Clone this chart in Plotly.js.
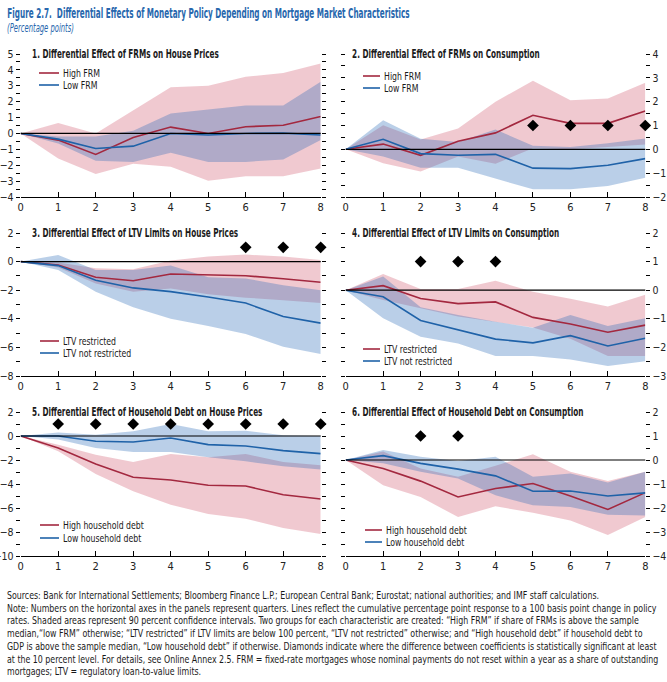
<!DOCTYPE html>
<html><head><meta charset="utf-8">
<script src="https://cdn.plot.ly/plotly-3.0.1.min.js"></script>
<style>html,body{margin:0;padding:0;background:#fff}#chart{width:667px;height:682px}</style>
</head><body><div id="chart"></div>
<script>
// ---------- DATA ----------
const quarters = [0,1,2,3,4,5,6,7,8];

// Panel 1: FRMs on House Prices
const p1HighLine  = [0,-0.42,-1.32,-0.25,0.40,0.00,0.42,0.52,1.07];
const p1HighUpper = [0,0.65,0.00,1.45,2.90,3.00,3.57,3.80,4.40];
const p1HighLower = [0,-1.58,-2.56,-1.90,-2.10,-2.98,-2.70,-2.70,-2.20];
const p1LowLine   = [0,-0.36,-0.95,-0.80,0.00,-0.10,0.00,0.02,-0.10];
const p1LowUpper  = [0,-0.20,-0.20,0.17,1.26,1.53,1.76,1.76,3.25];
const p1LowLower  = [0,-0.63,-1.72,-1.80,-1.22,-1.79,-1.79,-1.64,-0.42];
const p1Diamonds  = [];

// Panel 2: FRMs on Consumption
const p2HighLine  = [0,0.22,-0.25,0.34,0.69,1.43,1.09,1.09,1.61];
const p2HighUpper = [0,1.01,0.41,0.87,2.00,2.88,2.06,2.13,2.79];
const p2HighLower = [0,-0.58,-0.93,-0.30,-0.60,0.05,0.00,0.10,0.20];
const p2LowLine   = [0,0.42,-0.18,-0.25,-0.21,-0.79,-0.81,-0.67,-0.39];
const p2LowUpper  = [0,1.22,0.44,0.31,0.83,0.15,0.10,0.25,0.45];
const p2LowLower  = [0,-0.30,-0.77,-0.77,-1.23,-1.68,-1.68,-1.54,-1.19];
const p2Diamonds  = [5,6,7,8];

// Panel 3: LTV Limits on House Prices
const p3HighLine  = [0,-0.24,-1.10,-1.34,-0.87,-0.94,-0.99,-1.20,-1.44];
const p3HighUpper = [0,-0.07,-0.47,-0.54,0.07,0.35,0.49,0.35,0.12];
const p3HighLower = [0,-0.42,-1.53,-2.10,-1.88,-2.28,-2.52,-2.70,-2.90];
const p3LowLine   = [0,-0.28,-1.30,-1.84,-2.10,-2.47,-2.90,-3.84,-4.30];
const p3LowUpper  = [0,0.47,-0.59,-0.59,-0.28,-1.10,-1.18,-1.65,-2.00];
const p3LowLower  = [0,-0.59,-2.10,-3.20,-4.00,-4.50,-5.06,-5.95,-6.47];
const p3Diamonds  = [6,7,8];

// Panel 4: LTV Limits on Consumption
const p4HighLine  = [0,0.16,-0.29,-0.47,-0.41,-0.95,-1.18,-1.47,-1.22];
const p4HighUpper = [0,0.57,0.04,0.04,0.33,-0.05,-0.30,-0.57,-0.16];
const p4HighLower = [0,-0.34,-0.63,-0.92,-1.10,-1.30,-1.70,-2.30,-2.30];
const p4LowLine   = [0,-0.23,-1.06,-1.39,-1.71,-1.84,-1.59,-1.95,-1.68];
const p4LowUpper  = [0,0.48,-0.60,-0.87,-1.10,-1.31,-0.87,-1.25,-0.98];
const p4LowLower  = [0,-0.98,-1.63,-1.86,-2.30,-2.30,-2.42,-2.65,-2.48];
const p4Diamonds  = [2,3,4];

// Panel 5: Household Debt on House Prices
const p5HighLine  = [0,-1.00,-2.33,-3.44,-3.67,-4.11,-4.17,-4.89,-5.25];
const p5HighUpper = [0,-0.72,-1.56,-2.17,-1.50,-1.78,-1.50,-2.17,-2.44];
const p5HighLower = [0,-1.28,-3.17,-4.61,-5.72,-6.50,-6.89,-7.67,-8.17];
const p5LowLine   = [0,0.00,-0.44,-0.50,-0.17,-0.72,-0.83,-1.22,-1.47];
const p5LowUpper  = [0,0.30,0.11,0.39,1.00,0.39,0.44,0.06,0.00];
const p5LowLower  = [0,-0.30,-1.00,-1.33,-1.33,-1.78,-2.11,-2.53,-2.80];
const p5Diamonds  = [1,2,3,4,5,6,7,8];

// Panel 6: Household Debt on Consumption
const p6HighLine  = [0,-0.35,-0.88,-1.54,-1.19,-0.98,-1.50,-2.06,-1.36];
const p6HighUpper = [0,0.35,-0.35,-0.70,-0.24,0.24,-0.49,-0.88,-0.49];
const p6HighLower = [0,-1.05,-1.54,-2.38,-1.93,-2.20,-2.52,-3.12,-2.38];
const p6LowLine   = [0,0.18,-0.14,-0.38,-0.66,-1.30,-1.29,-1.50,-1.37];
const p6LowUpper  = [0,0.42,0.14,-0.04,0.14,-0.70,-0.56,-0.94,-0.49];
const p6LowLower  = [0,-0.14,-0.49,-0.77,-1.47,-1.89,-1.96,-2.28,-2.31];
const p6Diamonds  = [2,3];

const panelTitles = [
  "1. Differential Effect of FRMs on House Prices",
  "2. Differential Effect of FRMs on Consumption",
  "3. Differential Effect of LTV Limits on House Prices",
  "4. Differential Effect of LTV Limits on Consumption",
  "5. Differential Effect of Household Debt on House Prices",
  "6. Differential Effect of Household Debt on Consumption"
];
const legendHigh = ["High FRM","High FRM","LTV restricted","LTV restricted","High household debt","High household debt"];
const legendLow  = ["Low FRM","Low FRM","LTV not restricted","LTV not restricted","Low household debt","Low household debt"];
const diamondLevel = 1;

// ---------- STYLE / LAYOUT ----------
const W = 667, H = 682;
const FONT = "'Liberation Sans Narrow','Arial Narrow','DejaVu Sans Condensed',sans-serif";
const RED = "#a3283f", BLUE = "#1f62a8";
const RED_FILL = "rgba(200,60,85,0.28)", BLUE_FILL = "rgba(40,105,185,0.32)";
const TITLE_BLUE = "#2767ad";
const px = p => p / W, py = p => 1 - p / H;

const series = [
  [p1HighLine,p1HighUpper,p1HighLower,p1LowLine,p1LowUpper,p1LowLower,p1Diamonds],
  [p2HighLine,p2HighUpper,p2HighLower,p2LowLine,p2LowUpper,p2LowLower,p2Diamonds],
  [p3HighLine,p3HighUpper,p3HighLower,p3LowLine,p3LowUpper,p3LowLower,p3Diamonds],
  [p4HighLine,p4HighUpper,p4HighLower,p4LowLine,p4LowUpper,p4LowLower,p4Diamonds],
  [p5HighLine,p5HighUpper,p5HighLower,p5LowLine,p5LowUpper,p5LowLower,p5Diamonds],
  [p6HighLine,p6HighUpper,p6HighLower,p6LowLine,p6LowUpper,p6LowLower,p6Diamonds]
];

const colsX = [[20.7,320.7],[345.7,645.3]];
const rowsY = [[54,197],[233,376],[412,556]];
const panelCfg = [
  {range:[-4,5], dtick:1, minor:0.5, side:'left',  legY:[73,85],   legX:[39,59,61]},
  {range:[-2,4], dtick:1, minor:0.5, side:'right', legY:[76,88],   legX:[363,380,382]},
  {range:[-8,2], dtick:2, minor:1,   side:'left',  legY:[341,353], legX:[40,59,61]},
  {range:[-3,2], dtick:1, minor:0.5, side:'right', legY:[349,361], legX:[363,380,382]},
  {range:[-10,2],dtick:2, minor:1,   side:'left',  legY:[525,538], legX:[40,59,61]},
  {range:[-4,2], dtick:1, minor:0.5, side:'right', legY:[530,542], legX:[365,382,384]}
];

const traces = [];
const layout = {
  width: W, height: H,
  margin: {l:0, r:0, t:0, b:0},
  paper_bgcolor: '#fff', plot_bgcolor: 'rgba(0,0,0,0)',
  showlegend: false,
  font: {family: FONT, size: 11, color: '#1a1a1a'},
  annotations: [], shapes: []
};
const annCat = [];   // category of each annotation, for horizontal condensing
function addAnn(cat, a) { layout.annotations.push(a); annCat.push(cat); return layout.annotations.length - 1; }

function band(x, up, lo) {
  return {xs: x.concat(x.slice().reverse()), ys: up.concat(lo.slice().reverse())};
}

const refIdx = {};
panelCfg.forEach((cfg, i) => {
  const n = i + 1;
  const xa = 'x' + (n === 1 ? '' : n), ya = 'y' + (n === 1 ? '' : n);
  const col = colsX[i % 2], row = rowsY[Math.floor(i / 2)];
  const [hl, hu, hlo, ll, lu, llo, dia] = series[i];

  const bh = band(quarters, hu, hlo), bl = band(quarters, lu, llo);
  traces.push({x: bh.xs, y: bh.ys, xaxis: xa, yaxis: ya, type: 'scatter', mode: 'lines',
    fill: 'toself', fillcolor: RED_FILL, line: {width: 0}, hoverinfo: 'skip'});
  traces.push({x: bl.xs, y: bl.ys, xaxis: xa, yaxis: ya, type: 'scatter', mode: 'lines',
    fill: 'toself', fillcolor: BLUE_FILL, line: {width: 0}, hoverinfo: 'skip'});
  traces.push({x: quarters, y: hl, xaxis: xa, yaxis: ya, type: 'scatter', mode: 'lines',
    line: {color: RED, width: 1.6}, name: legendHigh[i]});
  traces.push({x: quarters, y: ll, xaxis: xa, yaxis: ya, type: 'scatter', mode: 'lines',
    line: {color: BLUE, width: 1.6}, name: legendLow[i]});
  if (dia.length) {
    traces.push({x: dia, y: dia.map(() => diamondLevel), xaxis: xa, yaxis: ya, type: 'scatter',
      mode: 'markers', marker: {symbol: 'diamond', size: 9, color: '#000'}, cliponaxis: false, hoverinfo: 'skip'});
  }

  layout['xaxis' + (n === 1 ? '' : n)] = {
    domain: [px(col[0]), px(col[1])], anchor: ya, range: [0, 8], fixedrange: true,
    showline: true, linecolor: '#000', linewidth: 1, ticks: 'inside', ticklen: 5, tickcolor: '#000',
    dtick: 1, tick0: 0, showgrid: false, zeroline: false,
    tickfont: {family: FONT, size: 11, color: '#222'}
  };
  layout['yaxis' + (n === 1 ? '' : n)] = {
    domain: [py(row[1]), py(row[0])], anchor: xa, range: cfg.range, fixedrange: true,
    side: cfg.side, showline: false, mirror: 'ticks',
    ticks: 'outside', ticklen: 4, tickcolor: '#000', dtick: cfg.dtick, tick0: 0,
    minor: {dtick: cfg.minor, ticks: 'outside', ticklen: 4, tickcolor: '#000', showgrid: false},
    showgrid: false, zeroline: false,
    tickfont: {family: FONT, size: 10.5, color: '#222'}
  };
  // zero reference line above traces
  layout.shapes.push({type: 'line', xref: xa + ' domain', x0: 0, x1: 1, yref: ya, y0: 0, y1: 0,
    line: {color: '#000', width: 1.2}, layer: 'above'});

  // panel title
  const ti = addAnn('panel', {text: '<b>' + panelTitles[i] + '</b>', xref: 'paper', yref: 'paper',
    x: px(cfg.side === 'left' ? 30 : 350), y: py(row[0]), xanchor: 'left', yanchor: 'middle',
    showarrow: false, font: {family: FONT, size: 11.5, color: '#1a1a1a'}});
  if (i === 0) refIdx.panel = ti;

  // legend
  [[RED, legendHigh[i], cfg.legY[0]], [BLUE, legendLow[i], cfg.legY[1]]].forEach(([c, t, yy], k) => {
    layout.shapes.push({type: 'line', xref: 'paper', yref: 'paper', x0: px(cfg.legX[0]), x1: px(cfg.legX[1]),
      y0: py(yy), y1: py(yy), line: {color: c, width: 1.6}});
    const li = addAnn('legend', {text: t, xref: 'paper', yref: 'paper', x: px(cfg.legX[2]), y: py(yy),
      xanchor: 'left', yanchor: 'middle', showarrow: false, font: {family: FONT, size: 11, color: '#1a1a1a'}});
    if (i === 4 && k === 0) refIdx.legend = li;
  });
});

// figure title and notes
refIdx.title = addAnn('title', {text: '<b>Figure 2.7.&nbsp; Differential Effects of Monetary Policy Depending on Mortgage Market Characteristics</b>',
  xref: 'paper', yref: 'paper', x: px(5), y: py(13), xanchor: 'left', yanchor: 'middle', showarrow: false,
  font: {family: FONT, size: 13.5, color: TITLE_BLUE}});
refIdx.sub = addAnn('sub', {text: '<i>(Percentage points)</i>',
  xref: 'paper', yref: 'paper', x: px(5), y: py(28), xanchor: 'left', yanchor: 'middle', showarrow: false,
  font: {family: FONT, size: 11.5, color: TITLE_BLUE}});

const notes = [
  "Sources: Bank for International Settlements; Bloomberg Finance L.P.; European Central Bank; Eurostat; national authorities; and IMF staff calculations.",
  "Note: Numbers on the horizontal axes in the panels represent quarters. Lines reflect the cumulative percentage point response to a 100 basis point change in policy",
  "rates. Shaded areas represent 90 percent confidence intervals. Two groups for each characteristic are created: “High FRM” if share of FRMs is above the sample",
  "median,“low FRM” otherwise; “LTV restricted” if LTV limits are below 100 percent, “LTV not restricted” otherwise; and “High household debt” if household debt to",
  "GDP is above the sample median, “Low household debt” if otherwise. Diamonds indicate where the difference between coefficients is statistically significant at least",
  "at the 10 percent level. For details, see Online Annex 2.5. FRM = fixed-rate mortgages whose nominal payments do not reset within a year as a share of outstanding",
  "mortgages; LTV = regulatory loan-to-value limits."
];
refIdx.notes = addAnn('notes', {text: notes.join('<br>'), xref: 'paper', yref: 'paper', x: px(5), y: py(588),
  xanchor: 'left', yanchor: 'top', align: 'left', showarrow: false,
  font: {family: FONT, size: 9.8, color: '#1a1a1a'}});

// target widths (px) of the reference texts used to condense the font horizontally
const fitWidth = {panel: 187, legend: 81, title: 403, sub: 67, notes: 652};

Plotly.newPlot('chart', traces, layout, {displayModeBar: false, staticPlot: true}).then(gd => {
  const texts = {};
  gd.querySelectorAll('g.annotation').forEach((g, k) => {
    const di = g.getAttribute('data-index');
    const idx = di !== null ? +di : k;
    texts[idx] = g.querySelector('text.annotation-text');
  });
  const scale = {};
  Object.keys(fitWidth).forEach(cat => {
    const t = texts[refIdx[cat]];
    if (!t) return;
    const w = t.getBBox().width;
    scale[cat] = w > 0 ? Math.min(1, fitWidth[cat] / w) : 1;
  });
  annCat.forEach((cat, idx) => {
    const t = texts[idx];
    if (!t || !scale[cat]) return;
    const b = t.getBBox();
    t.setAttribute('transform', `translate(${b.x},0) scale(${scale[cat]},1) translate(${-b.x},0)`);
  });
});
</script></body></html>
